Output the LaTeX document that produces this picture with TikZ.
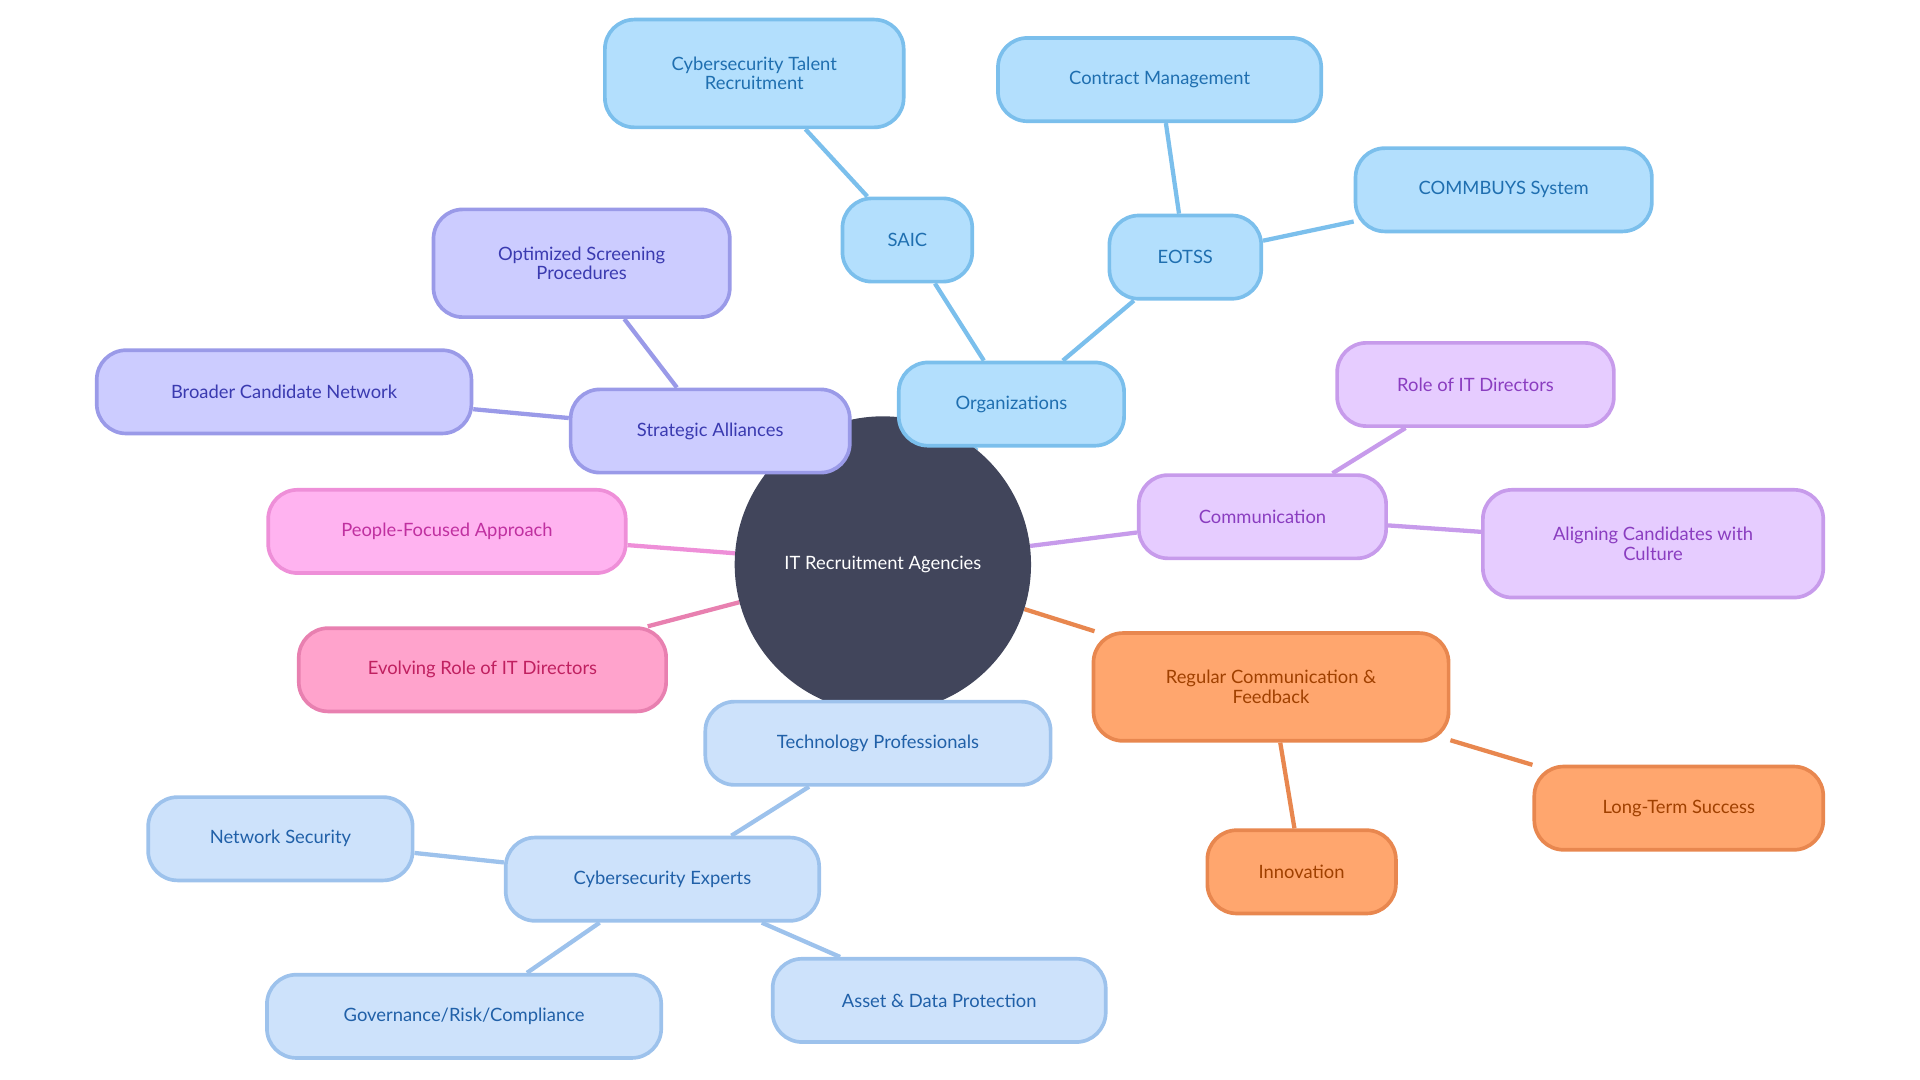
\documentclass[tikz,border=0pt]{standalone}
\usepackage{fontspec}
\setmainfont{Lato}
\usetikzlibrary{positioning,backgrounds}
\definecolor{hubfill}{HTML}{41455B}
\definecolor{orgfill}{HTML}{B3DFFD}\definecolor{orgline}{HTML}{7BBFEC}\definecolor{orgtext}{HTML}{1F6FB0}
\definecolor{allfill}{HTML}{CCCCFF}\definecolor{allline}{HTML}{9A9AE8}\definecolor{alltext}{HTML}{3A3AB0}
\definecolor{comfill}{HTML}{E6CCFF}\definecolor{comline}{HTML}{C79BEB}\definecolor{comtext}{HTML}{8A3DC0}
\definecolor{pplfill}{HTML}{FFB3F0}\definecolor{pplline}{HTML}{EE8FD8}\definecolor{ppltext}{HTML}{C030A0}
\definecolor{evofill}{HTML}{FFA3CC}\definecolor{evoline}{HTML}{E880B0}\definecolor{evotext}{HTML}{C02060}
\definecolor{regfill}{HTML}{FFA66E}\definecolor{regline}{HTML}{E8874F}\definecolor{regtext}{HTML}{A04000}
\definecolor{tecfill}{HTML}{CDE2FB}\definecolor{tecline}{HTML}{9DC2EC}\definecolor{tectext}{HTML}{2060A8}
\begin{document}
\begin{tikzpicture}[x=1pt,y=-1pt,
	box/.style={rounded corners=24pt, line width=3pt, minimum height=68pt, align=center, font=\fontsize{15}{16}\selectfont},
	org/.style={box, fill=orgfill, draw=orgline, text=orgtext},
	all/.style={box, fill=allfill, draw=allline, text=alltext},
	com/.style={box, fill=comfill, draw=comline, text=comtext},
	ppl/.style={box, fill=pplfill, draw=pplline, text=ppltext},
	evo/.style={box, fill=evofill, draw=evoline, text=evotext},
	reg/.style={box, fill=regfill, draw=regline, text=regtext},
	tec/.style={box, fill=tecfill, draw=tecline, text=tectext},
	tall/.style={minimum height=88pt},
	link/.style={line width=3.5pt}]
	\useasboundingbox (0,0) rectangle (1568,882);
	% hub
	\node[circle, fill=hubfill, minimum size=242pt, text=white, font=\fontsize{15}{16}\selectfont] (hub) at (721,461) {IT Recruitment Agencies};
	% organizations
	\node[org, minimum width=184pt] (orgs) at (826,330) {Organizations};
	\node[org, minimum width=106pt] (saic) at (741,196) {SAIC};
	\node[org, tall, minimum width=244pt] (talent) at (616,60) {Cybersecurity Talent\\Recruitment};
	\node[org, minimum width=124pt] (eotss) at (968,210) {EOTSS};
	\node[org, minimum width=264pt] (contract) at (947,65) {Contract Management};
	\node[org, minimum width=242pt] (commbuys) at (1228,155) {COMMBUYS System};
	% strategic alliances
	\node[all, minimum width=228pt] (alliances) at (580,352) {Strategic Alliances};
	\node[all, tall, minimum width=242pt] (screening) at (475,215) {Optimized Screening\\Procedures};
	\node[all, minimum width=306pt] (network) at (232,320) {Broader Candidate Network};
	% communication
	\node[com, minimum width=202pt] (comm) at (1031,422) {Communication};
	\node[com, minimum width=226pt] (roledir) at (1205,314) {Role of IT Directors};
	\node[com, tall, minimum width=278pt] (culture) at (1350,444) {Aligning Candidates with\\Culture};
	% single leaves
	\node[ppl, minimum width=292pt] (people) at (365,434) {People-Focused Approach};
	\node[evo, minimum width=300pt] (evolving) at (394,547) {Evolving Role of IT Directors};
	% feedback
	\node[reg, tall, minimum width=290pt] (feedback) at (1038,561) {Regular Communication \&\\Feedback};
	\node[reg, minimum width=236pt] (longterm) at (1371,660) {Long-Term Success};
	\node[reg, minimum width=154pt] (innov) at (1063,712) {Innovation};
	% technology
	\node[tec, minimum width=282pt] (techpro) at (717,607) {Technology Professionals};
	\node[tec, minimum width=256pt] (cyber) at (541,718) {Cybersecurity Experts};
	\node[tec, minimum width=216pt] (netsec) at (229,685) {Network Security};
	\node[tec, minimum width=322pt] (grc) at (379,830) {Governance/Risk/Compliance};
	\node[tec, minimum width=272pt] (asset) at (767,817) {Asset \& Data Protection};
	% links
	\begin{pgfonlayer}{background}
	\path[link]
		(hub) edge[draw=orgline] (orgs)
		(hub) edge[draw=allline] (alliances)
		(hub) edge[draw=comline] (comm)
		(hub) edge[draw=pplline] (people)
		(hub) edge[draw=evoline] (evolving)
		(hub) edge[draw=regline] (feedback)
		(hub) edge[draw=tecline] (techpro)
		(orgs) edge[draw=orgline] (saic)
		(saic) edge[draw=orgline] (talent)
		(orgs) edge[draw=orgline] (eotss)
		(eotss) edge[draw=orgline] (contract)
		(eotss) edge[draw=orgline] (commbuys)
		(alliances) edge[draw=allline] (screening)
		(alliances) edge[draw=allline] (network)
		(comm) edge[draw=comline] (roledir)
		(comm) edge[draw=comline] (culture)
		(feedback) edge[draw=regline] (longterm)
		(feedback) edge[draw=regline] (innov)
		(techpro) edge[draw=tecline] (cyber)
		(cyber) edge[draw=tecline] (netsec)
		(cyber) edge[draw=tecline] (grc)
		(cyber) edge[draw=tecline] (asset);
	\end{pgfonlayer}
\end{tikzpicture}
\end{document}
